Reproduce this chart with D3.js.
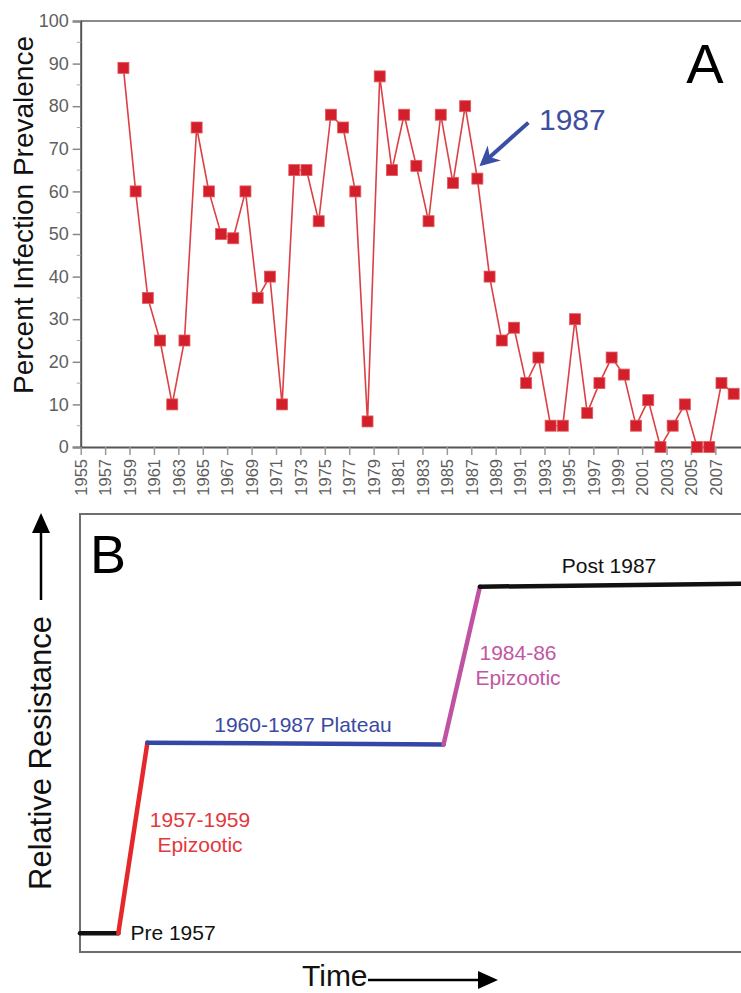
<!DOCTYPE html>
<html>
<head>
<meta charset="utf-8">
<script src="https://cdn.jsdelivr.net/npm/d3@7"></script>
<style>
  body { margin: 0; background: #fff; }
  text { font-family: "Liberation Sans", Arial, Helvetica, sans-serif; }
</style>
</head>
<body>
<div id="chart"></div>
<script>
// panel A data: percent infection prevalence per year
const years = d3.range(1958, 2009);
const prevalence = [89, 60, 35, 25, 10, 25, 75, 60, 50, 49,
    60, 35, 40, 10, 65, 65, 53, 78, 75, 60,
    6, 87, 65, 78, 66, 53, 78, 62, 80, 63,
    40, 25, 28, 15, 21, 5, 5, 30, 8, 15,
    21, 17, 5, 11, 0, 5, 10, 0, 0, 15, 12.5];
const yTicks = d3.range(0, 101, 10);
const xTickYears = d3.range(1955, 2008, 2);

// panel B: schematic stages (relative time, relative resistance)
const stageNames = ['Pre 1957', '1957-1959 Epizootic', '1960-1987 Plateau', '1984-86 Epizootic', 'Post 1987'];
const stageColors = ['#111', '#e5282c', '#3446a6', '#c052a3', '#111'];
const stageTime = [[0, 5.8], [5.8, 10.2], [10.2, 55], [55, 60.5], [60.5, 100]];
const stageLevel = [[4.3, 4.3], [4.3, 47.8], [47.8, 47.4], [47.4, 83.4], [83.4, 84.1]];

var W = 741, H = 993;
var svg = d3.select('#chart').append('svg')
    .attr('width', W)
    .attr('height', H);

// ---------- Panel A ----------
var a = { left: 80.7, right: 741, top: 21, bottom: 447 };

var x = d3.scaleLinear()
    .domain([1955, 2009.1])
    .range([a.left, a.right]);

var y = d3.scaleLinear()
    .domain([0, 100])
    .range([a.bottom, a.top]);

// top frame
svg.append('line')
    .attr('x1', a.left).attr('x2', a.right)
    .attr('y1', a.top).attr('y2', a.top)
    .attr('stroke', '#8a8a8a')
    .attr('stroke-width', 2);

// y axis
var yAxis = svg.append('g')
    .attr('transform', 'translate(' + a.left + ',0)')
    .call(d3.axisLeft(y).tickValues(yTicks).tickSize(8).tickPadding(4));
yAxis.select('.domain').attr('stroke', '#555').attr('stroke-width', 2);
yAxis.selectAll('.tick line').attr('stroke', '#888').attr('stroke-width', 1.5);
yAxis.selectAll('.tick text')
    .attr('fill', '#5e5e5e')
    .style('font-size', '18px');

// minor ticks at the fives
svg.append('g').selectAll('line')
    .data(d3.range(5, 100, 10))
    .enter().append('line')
    .attr('x1', a.left - 4).attr('x2', a.left)
    .attr('y1', function (d) { return y(d); })
    .attr('y2', function (d) { return y(d); })
    .attr('stroke', '#aaa');

// x axis
var xAxis = svg.append('g')
    .attr('transform', 'translate(0,' + a.bottom + ')')
    .call(d3.axisBottom(x).tickValues(xTickYears).tickFormat(d3.format('d')).tickSize(8).tickSizeOuter(0));
xAxis.select('.domain').attr('stroke', '#555').attr('stroke-width', 2);
xAxis.selectAll('.tick line').attr('stroke', '#999').attr('stroke-width', 1.5);
xAxis.selectAll('.tick text')
    .attr('fill', '#5e5e5e')
    .style('font-size', '16.5px')
    .attr('text-anchor', 'end')
    .attr('dy', '0.35em')
    .attr('transform', 'translate(0,12) rotate(-90)')
    .attr('x', 0)
    .attr('y', 0);

// y axis title
svg.append('text')
    .attr('transform', 'translate(33,215) rotate(-90)')
    .attr('text-anchor', 'middle')
    .style('font-size', '28px')
    .attr('fill', '#111')
    .text('Percent Infection Prevalence');

// data, plotted in the middle of each year
var pts = years.map(function (yr, i) { return { year: yr, value: prevalence[i] }; });

var line = d3.line()
    .x(function (d) { return x(d.year + 0.5); })
    .y(function (d) { return y(d.value); });

svg.append('path')
    .attr('fill', 'none')
    .attr('stroke', '#dc4045')
    .attr('stroke-width', 1.6)
    .attr('d', line(pts));

svg.append('g').selectAll('rect')
    .data(pts)
    .enter().append('rect')
    .attr('x', function (d) { return x(d.year + 0.5) - 5.5; })
    .attr('y', function (d) { return y(d.value) - 5.5; })
    .attr('width', 11)
    .attr('height', 11)
    .attr('fill', '#d21f2b')
    .attr('stroke', '#e35a5e')
    .attr('stroke-width', 0.8);

// panel letter
svg.append('text')
    .attr('x', 705).attr('y', 83)
    .attr('text-anchor', 'middle')
    .style('font-size', '56px')
    .attr('fill', '#000')
    .text('A');

// 1987 annotation
var p1987 = pts[years.indexOf(1987)];
var tipX = x(p1987.year + 0.5) + 5, tipY = y(p1987.value) - 15;
svg.append('defs').append('marker')
    .attr('id', 'bluehead')
    .attr('viewBox', '0 0 10 10')
    .attr('refX', 8).attr('refY', 5)
    .attr('markerWidth', 5).attr('markerHeight', 5)
    .attr('orient', 'auto')
    .append('path')
    .attr('d', 'M0,0 L10,5 L0,10 L3,5 Z')
    .attr('fill', '#3b4ea6');
svg.append('line')
    .attr('x1', tipX + 46).attr('y1', tipY - 41)
    .attr('x2', tipX).attr('y2', tipY)
    .attr('stroke', '#3b4ea6')
    .attr('stroke-width', 4)
    .attr('marker-end', 'url(#bluehead)');
svg.append('text')
    .attr('x', 539).attr('y', 130)
    .style('font-size', '30px')
    .attr('fill', '#3f4e9e')
    .text('1987');

// ---------- Panel B ----------
var b = { left: 80, right: 741, top: 514, bottom: 952 };

var xB = d3.scaleLinear().domain([0, 100]).range([b.left, b.right]);
var yB = d3.scaleLinear().domain([0, 100]).range([b.bottom, b.top]);

var frame = d3.path();
frame.moveTo(b.right + 2, b.top);
frame.lineTo(b.left, b.top);
frame.lineTo(b.left, b.bottom);
frame.lineTo(b.right + 2, b.bottom);
svg.append('path')
    .attr('d', frame.toString())
    .attr('fill', 'none')
    .attr('stroke', '#6e6e6e')
    .attr('stroke-width', 2);

var stages = stageNames.map(function (n, i) {
    return { name: n, color: stageColors[i], t: stageTime[i], lv: stageLevel[i] };
});

svg.append('g').selectAll('line')
    .data(stages)
    .enter().append('line')
    .attr('x1', function (d) { return xB(d.t[0]); })
    .attr('x2', function (d) { return xB(d.t[1]); })
    .attr('y1', function (d) { return yB(d.lv[0]); })
    .attr('y2', function (d) { return yB(d.lv[1]); })
    .attr('stroke', function (d) { return d.color; })
    .attr('stroke-width', 4.5)
    .attr('stroke-linecap', 'round');

// stage labels
var stageLabels = [
    { lines: ['Pre 1957'], x: 173, y: 940, color: '#111' },
    { lines: ['1957-1959', 'Epizootic'], x: 200, y: 827, color: '#e3383c' },
    { lines: ['1960-1987 Plateau'], x: 303, y: 732, color: '#3a4aa3' },
    { lines: ['1984-86', 'Epizootic'], x: 518, y: 660, color: '#c256a4' },
    { lines: ['Post 1987'], x: 609, y: 573, color: '#111' }
];
var lab = svg.append('g').selectAll('text')
    .data(stageLabels)
    .enter().append('text')
    .attr('text-anchor', 'middle')
    .style('font-size', '21px')
    .attr('fill', function (d) { return d.color; })
    .attr('x', function (d) { return d.x; })
    .attr('y', function (d) { return d.y; });
lab.selectAll('tspan')
    .data(function (d) { return d.lines.map(function (l) { return { l: l, x: d.x }; }); })
    .enter().append('tspan')
    .attr('x', function (d) { return d.x; })
    .attr('dy', function (d, i) { return i === 0 ? 0 : '1.2em'; })
    .text(function (d) { return d.l; });

svg.append('text')
    .attr('x', 108).attr('y', 573)
    .attr('text-anchor', 'middle')
    .style('font-size', '54px')
    .attr('fill', '#000')
    .text('B');

// axis titles with arrows
svg.append('text')
    .attr('transform', 'translate(51,753) rotate(-90)')
    .attr('text-anchor', 'middle')
    .style('font-size', '31px')
    .attr('fill', '#111')
    .text('Relative Resistance');
svg.append('line')
    .attr('x1', 41).attr('x2', 41)
    .attr('y1', 600).attr('y2', 530)
    .attr('stroke', '#000').attr('stroke-width', 2.5);
svg.append('path')
    .attr('d', 'M41,513 L50,533 L32,533 Z')
    .attr('fill', '#000');

svg.append('text')
    .attr('x', 302).attr('y', 986)
    .style('font-size', '30px')
    .attr('fill', '#111')
    .text('Time');
svg.append('line')
    .attr('x1', 368).attr('x2', 482)
    .attr('y1', 980).attr('y2', 980)
    .attr('stroke', '#000').attr('stroke-width', 2.5);
svg.append('path')
    .attr('d', 'M498,980 L478,971 L478,989 Z')
    .attr('fill', '#000');
</script>
</body>
</html>
